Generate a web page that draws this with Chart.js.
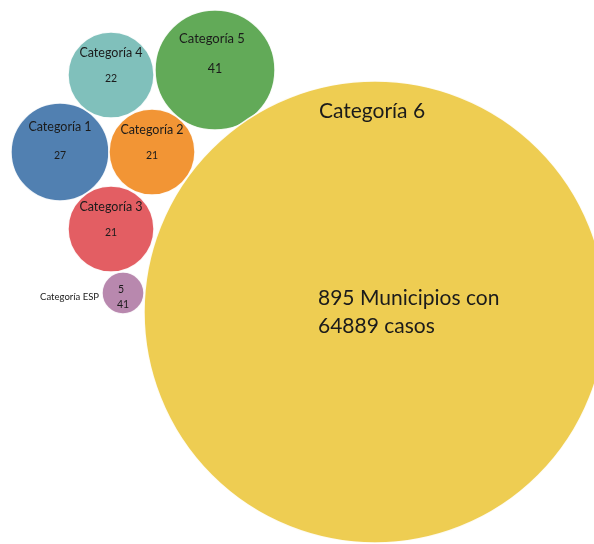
<!DOCTYPE html>
<html>
<head>
<meta charset="utf-8">
<script src="https://cdn.jsdelivr.net/npm/chart.js@4.4.1/dist/chart.umd.min.js"></script>
<style>
  html, body { margin: 0; padding: 0; background: #fff; }
  #wrap { width: 594px; height: 544px; position: relative; }
</style>
</head>
<body>
<div id="wrap"><canvas id="bubbles" width="594" height="544"></canvas></div>
<script>
const categories = ["Categoría 1", "Categoría 2", "Categoría 3", "Categoría 4", "Categoría 5", "Categoría 6", "Categoría ESP"];
const counts = ["27", "21", "21", "22", "41", "", "5\n41"];
// packed layout: centres and radii of each bubble
const bubbleX = [60, 152, 111, 111, 215, 375, 123];
const bubbleY = [152, 152, 229, 75, 70, 312, 293];
const bubbleR = [49, 43, 43, 43, 60, 231, 21];
const colors = ["#5180b1", "#f29535", "#e35e63", "#80c0bb", "#62aa58", "#eecd52", "#b888ae"];
const bigNote = ["895 Municipios con", "64889 casos"];

const font = "Lato, 'Noto Sans', sans-serif";

const labelPlugin = {
  id: "bubbleLabels",
  afterDatasetsDraw(chart) {
    const ctx = chart.ctx;
    const meta = chart.getDatasetMeta(0);
    ctx.save();
    ctx.fillStyle = "#1b1b1b";
    ctx.textBaseline = "middle";
    meta.data.forEach((el, i) => {
      const { x, y } = el.getProps(["x", "y"], true);
      const r = bubbleR[i];
      const name = categories[i];
      if (i === 5) {
        ctx.textAlign = "center";
        ctx.font = `21px ${font}`;
        ctx.fillText(name, x - 3, y - 201);
        ctx.textAlign = "left";
        ctx.font = `21px ${font}`;
        ctx.fillText(bigNote[0], x - 57, y - 14);
        ctx.fillText(bigNote[1], x - 57, y + 14);
      } else if (i === 6) {
        ctx.textAlign = "right";
        ctx.font = `9.5px ${font}`;
        ctx.fillText(name, x - 24, y + 4);
        ctx.textAlign = "center";
        ctx.font = `10.5px ${font}`;
        const lines = counts[i].split("\n");
        ctx.fillText(lines[0], x - 2, y - 3);
        ctx.fillText(lines[1], x, y + 12);
      } else {
        ctx.textAlign = "center";
        const big = r >= 55;
        ctx.font = `${big ? 13 : 12.5}px ${font}`;
        ctx.fillText(name, x - (big ? 3 : 0), y - r * 0.52);
        ctx.font = `${big ? 12.5 : 10.5}px ${font}`;
        ctx.fillText(counts[i], x, y + (big ? -1 : 4));
      }
    });
    ctx.restore();
  },
};

new Chart(document.getElementById("bubbles"), {
  type: "bubble",
  data: {
    labels: categories,
    datasets: [{
      data: categories.map((c, i) => ({ x: bubbleX[i], y: bubbleY[i], r: bubbleR[i] })),
      backgroundColor: colors,
      borderColor: "rgba(255,255,255,0.9)",
      borderWidth: 1.5,
      clip: false,
    }],
  },
  options: {
    responsive: false,
    animation: false,
    layout: { padding: 0, autoPadding: false },
    plugins: { legend: { display: false }, tooltip: { enabled: false } },
    scales: {
      x: { type: "linear", min: 0, max: 594, display: false },
      y: { type: "linear", min: 0, max: 544, reverse: true, display: false },
    },
  },
  plugins: [labelPlugin],
});
</script>
</body>
</html>
